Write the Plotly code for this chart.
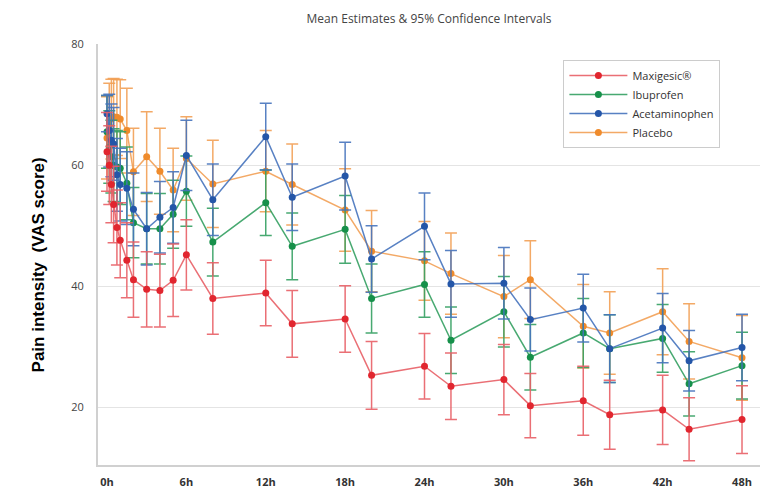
import plotly.graph_objects as go

# Time points (hours)
hours = [0, 0.17, 0.33, 0.5, 0.75, 1, 1.5, 2, 3, 4, 5, 6, 8, 12, 14, 18, 20, 24, 26, 30, 32, 36, 38, 42, 44, 48]

tick_vals = [0, 6, 12, 18, 24, 30, 36, 42, 48]
tick_text = ["0h", "6h", "12h", "18h", "24h", "30h", "36h", "42h", "48h"]

maxigesic = [62.2, 60.0, 56.8, 53.5, 49.7, 47.6, 44.3, 41.1, 39.5, 39.3, 41.0, 45.2, 38.0,
             38.9, 33.8, 34.6, 25.3, 26.8, 23.5, 24.6, 20.3, 21.1, 18.8, 19.6, 16.4, 18.0]
maxigesic_ci = [6.5, 6.5, 6.3, 6.3, 6.2, 6.2, 6.2, 6.2, 6.2, 6.0, 6.0, 5.8, 5.9,
                5.4, 5.5, 5.5, 5.6, 5.4, 5.5, 5.8, 5.3, 5.7, 5.7, 5.7, 5.2, 5.6]

ibuprofen = [65.5, 63.0, 61.4, 60.0, 59.7, 59.5, 57.0, 50.5, 49.5, 49.5, 51.9, 55.7, 47.3,
             53.8, 46.6, 49.4, 38.0, 40.3, 31.1, 35.8, 28.3, 32.3, 29.7, 31.4, 23.9, 26.9]
ibuprofen_ci = [6.0, 6.0, 6.0, 6.0, 6.0, 6.0, 6.0, 5.8, 5.8, 5.8, 5.6, 5.8, 5.6,
                5.4, 5.5, 5.6, 5.7, 5.4, 5.5, 5.8, 5.4, 5.7, 5.6, 5.6, 5.3, 5.5]

acetaminophen = [68.5, 65.7, 64.1, 63.5, 58.4, 56.8, 56.2, 52.7, 49.5, 51.4, 53.0, 61.6, 54.3,
                 64.7, 54.7, 58.2, 44.5, 49.9, 40.4, 40.5, 34.5, 36.4, 29.7, 33.1, 27.7, 29.9]
acetaminophen_ci = [3.0, 6.0, 6.0, 6.0, 6.0, 6.0, 6.0, 6.0, 6.0, 5.9, 5.9, 5.8, 5.9,
                    5.5, 5.5, 5.6, 5.5, 5.5, 5.5, 5.9, 5.2, 5.6, 5.6, 5.7, 5.0, 5.5]

placebo = [64.5, 66.5, 67.6, 68.0, 67.9, 67.6, 65.7, 58.9, 61.4, 59.0, 55.9, 61.1, 56.9,
           59.0, 56.8, 52.6, 45.8, 44.2, 42.1, 38.3, 41.1, 33.4, 32.3, 35.8, 30.9, 28.2]
placebo_ci = [6.8, 7.0, 6.6, 6.3, 6.3, 6.5, 7.0, 7.2, 7.4, 7.1, 6.9, 6.9, 7.2,
              6.7, 6.7, 6.8, 6.7, 6.5, 6.7, 6.8, 6.4, 6.9, 6.8, 7.1, 6.2, 7.0]

series = [
    # name, values, ci, marker color, line color, legend rank
    ("Placebo", placebo, placebo_ci, "#EF8B2C", "rgba(242,160,85,0.9)", 4),
    ("Ibuprofen", ibuprofen, ibuprofen_ci, "#16904A", "rgba(52,160,98,0.9)", 2),
    ("Acetaminophen", acetaminophen, acetaminophen_ci, "#2456A8", "rgba(70,115,188,0.9)", 3),
    ("Maxigesic®", maxigesic, maxigesic_ci, "#E1262F", "rgba(232,95,102,0.9)", 1),
]

fig = go.Figure()
for name, vals, ci, mcol, lcol, rank in series:
    fig.add_trace(go.Scatter(
        x=hours, y=vals, name=name, mode="lines+markers",
        line=dict(color=lcol, width=1.5),
        marker=dict(color=mcol, size=7),
        error_y=dict(type="data", array=ci, visible=True, color=lcol, thickness=1.5, width=6),
        legendrank=rank,
    ))

fig.update_layout(
    width=761, height=490,
    margin=dict(l=90, r=9, t=36, b=26),
    paper_bgcolor="white", plot_bgcolor="white",
    font=dict(family="Open Sans, Arial, sans-serif", color="#333"),
    title=dict(text="Mean Estimates & 95% Confidence Intervals", x=0.5, xref="paper",
               y=0.978, yanchor="middle", font=dict(size=12, color="#444")),
    showlegend=True,
    legend=dict(x=0.703, y=0.962, xanchor="left", yanchor="top",
                bordercolor="#cccccc", borderwidth=1, bgcolor="white",
                font=dict(size=11, color="#333"), traceorder="normal",
                itemwidth=58, tracegroupgap=0),
)

fig.update_xaxes(range=[-0.68, 49.36], tickvals=tick_vals, ticktext=tick_text,
                 showgrid=False, zeroline=False, showline=True, linecolor="#d0d0d0",
                 linewidth=2, ticks="", tickfont=dict(size=11, color="#333",
                 family="Open Sans, Arial, sans-serif", weight="bold"), ticklabelstandoff=6)
fig.update_yaxes(range=[10.5, 80], tickvals=[20, 40, 60, 80], showgrid=True,
                 gridcolor="#e4e4e4", gridwidth=1, zeroline=False, showline=True,
                 linecolor="#d0d0d0", linewidth=2, ticks="",
                 tickfont=dict(size=11, color="#444"), ticklabelstandoff=10)

fig.add_annotation(text="<b>Pain intensity  (VAS score)</b>", textangle=-90,
                   xref="paper", yref="paper", x=(38 - 98) / 662, y=0.474,
                   xanchor="center", yanchor="middle", showarrow=False,
                   font=dict(size=17, color="#000", family="Arial, Liberation Sans, sans-serif"))

fig.write_html("out.html")
